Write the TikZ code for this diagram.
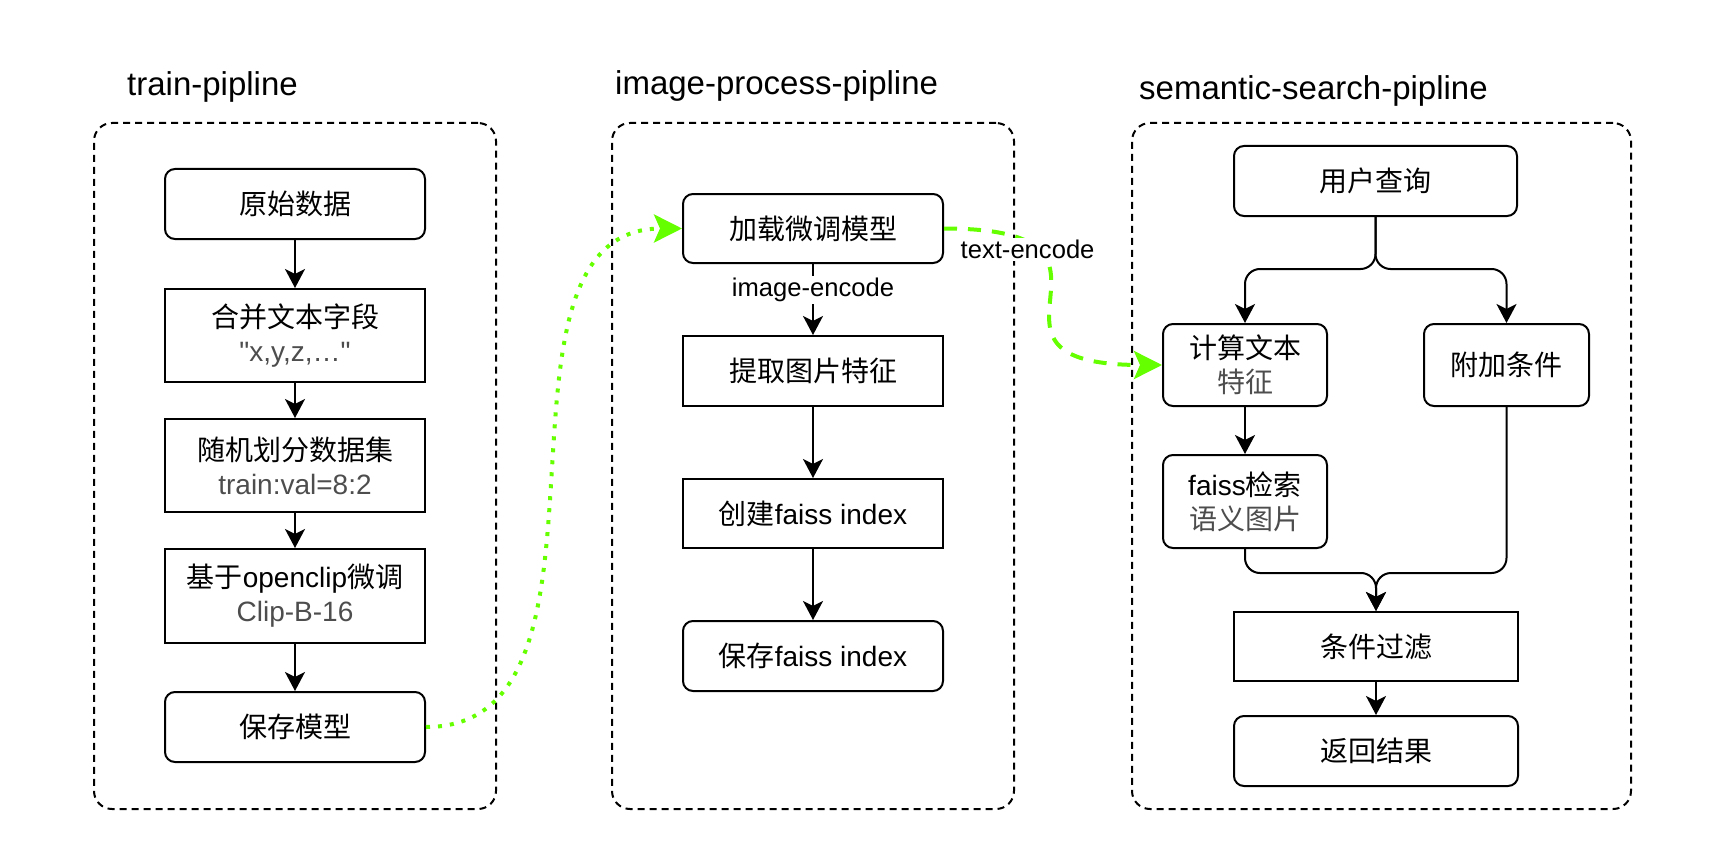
\documentclass[tikz,border=0pt]{standalone}
\usepackage{fontspec}
\setmainfont{Liberation Sans}
\newfontfamily\plainsans{Liberation Sans}
\newfontfamily\cjk{Noto Sans CJK SC}
\usetikzlibrary{arrows.meta,calc}
\definecolor{grn}{HTML}{66FF00}
\definecolor{subgray}{HTML}{4D4D4D}
\newcommand\subtxt[1]{{\color{subgray}#1}}
\begin{document}
\begin{tikzpicture}[x=1pt,y=-1pt,
  box/.style={draw, line width=2pt, minimum width=260pt, font=\fontsize{28}{34}\selectfont, align=center, inner sep=2pt},
  rbox/.style={box, rounded corners=10pt},
  group/.style={draw, line width=2pt, rounded corners=18pt, dash pattern=on 7pt off 5pt},
  title/.style={anchor=base west, font=\fontsize{33}{40}\selectfont, inner sep=0pt},
  arr/.style={line width=2pt, -{Stealth[length=19pt,width=20pt,inset=5pt]}},
  garr/.style={grn, line width=4pt, -{Stealth[length=28pt,width=28pt,inset=6pt]}},
  lbl/.style={fill=white, text=black, font=\fontsize{25.6}{30}\selectfont, inner sep=2pt}]
\useasboundingbox (0,0) rectangle (1711,864);
\fill[white] (0,0) rectangle (1711,864);

% groups
\node[group, minimum width=402pt, minimum height=686pt] (g1) at (295,466) {};
\node[group, minimum width=402pt, minimum height=686pt] (g2) at (813,466) {};
\node[group, minimum width=499pt, minimum height=686pt] (g3) at (1381.5,466) {};
\node[title] (t1) at (127,96) {train-pipline};
\node[title] (t2) at (615,95) {image-process-pipline};
\node[title] (t3) at (1139,100) {semantic-search-pipline};

% left column
\node[rbox, minimum height=70pt] (raw) at (295,204) {\cjk 原始数据};
\node[box, minimum height=93pt] (merge) at (295,335.5) {{\cjk 合并文本字段}\\\subtxt{\plainsans "x,y,z,…"}};
\node[box, minimum height=93pt] (split) at (295,465.5) {{\cjk 随机划分数据集}\\\subtxt{train:val=8:2}};
\node[box, minimum height=94pt] (tune) at (295,596) {{\cjk 基于}openclip{\cjk 微调}\\\subtxt{Clip-B-16}};
\node[rbox, minimum height=70pt] (savem) at (295,727) {\cjk 保存模型};

% middle column
\node[rbox, minimum height=69pt] (load) at (813,228.5) {\cjk 加载微调模型};
\node[box, minimum height=70pt] (extract) at (813,371) {\cjk 提取图片特征};
\node[box, minimum height=69pt] (create) at (813,513.5) {{\cjk 创建}faiss index};
\node[rbox, minimum height=70pt] (savef) at (813,656) {{\cjk 保存}faiss index};

% right column
\node[rbox, minimum width=283pt, minimum height=70pt] (query) at (1375.5,181) {\cjk 用户查询};
\node[rbox, minimum width=164pt, minimum height=82pt] (textf) at (1245,365) {{\cjk 计算文本}\\\subtxt{\cjk 特征}};
\node[rbox, minimum width=165pt, minimum height=82pt] (cond) at (1506.5,365) {\cjk 附加条件};
\node[rbox, minimum width=164pt, minimum height=93pt] (faiss) at (1245,501.5) {faiss{\cjk 检索}\\\subtxt{\cjk 语义图片}};
\node[box, minimum width=284pt, minimum height=69pt] (filter) at (1376,646.5) {\cjk 条件过滤};
\node[rbox, minimum width=284pt, minimum height=70pt] (result) at (1376,751) {\cjk 返回结果};

% left arrows
\draw[arr] (raw) -- (merge);
\draw[arr] (merge) -- (split);
\draw[arr] (split) -- (tune);
\draw[arr] (tune) -- (savem);

% middle arrows
\draw[arr] (load) -- node[lbl, pos=0.37] {image-encode} (extract);
\draw[arr] (extract) -- (create);
\draw[arr] (create) -- (savef);

% right arrows
\coordinate (br) at ($(query.south)+(0,52)$);
\coordinate (mg) at ($(faiss.south)+(0,24)$);
\draw[arr, rounded corners=15pt] (query.south) -- (query.south |- br) -| (textf.north);
\draw[arr, rounded corners=15pt] (query.south) -- (query.south |- br) -| (cond.north);
\draw[arr] (textf) -- (faiss);
\draw[arr, rounded corners=15pt] (faiss.south) -- (faiss.south |- mg) -| (filter.north);
\draw[arr, rounded corners=15pt] (cond.south) -- (cond.south |- mg) -| (filter.north);
\draw[arr] (filter) -- (result);

% green connectors
\draw[garr, dash pattern=on 4pt off 8pt] (savem.east) .. controls ($(savem.east)+(215,0)$) and ($(load.west)+(-215,0)$) .. (load.west);
\draw[garr, dash pattern=on 13pt off 11pt] (load.east) .. controls ($(load.east)+(220,0)$) and ($(textf.west)+(-220,0)$) .. node[lbl, pos=0.19, yshift=-8pt] {text-encode} (textf.west);
\end{tikzpicture}
\end{document}
